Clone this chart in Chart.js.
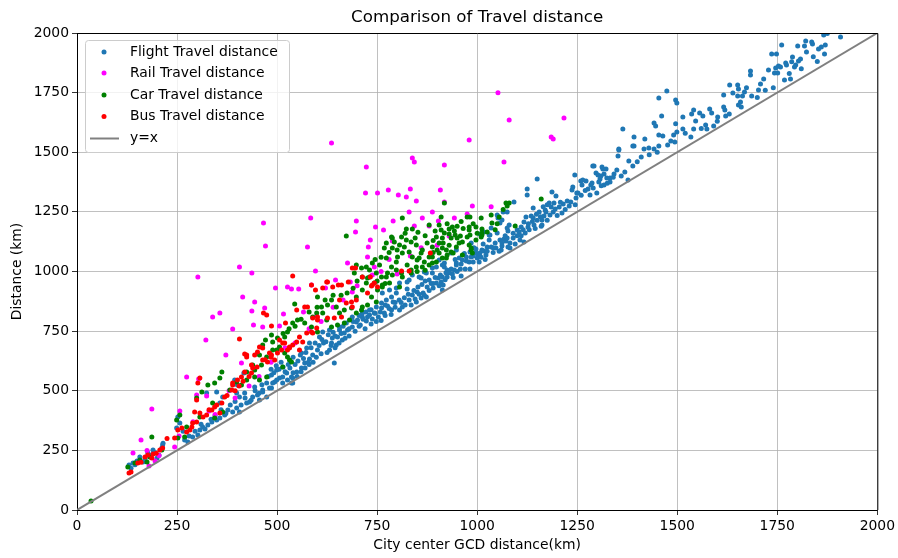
<!DOCTYPE html>
<html lang="en">
<head>
<meta charset="UTF-8">
<title>Comparison of Travel distance</title>
<script src="https://cdn.jsdelivr.net/npm/chart.js@4.4.0/dist/chart.umd.min.js"></script>
<style>
  body { margin: 0; background: #fff; }
  #wrap { position: relative; width: 898px; height: 558px; }
</style>
</head>
<body>
<div id="wrap"><canvas id="myChart"></canvas></div>
<script>
// series labels
const seriesNames = ['Flight Travel distance', 'Rail Travel distance', 'Car Travel distance', 'Bus Travel distance'];
const lineName = 'y=x';
const tickValues = [0, 250, 500, 750, 1000, 1250, 1500, 1750, 2000];

// [city center GCD distance, travel distance] in km
const flightPoints = [
  [1908,1983],[1866,1992],[1875,1998],[1870,1950],[1860,1941],[1853,1933],[1868,1912],[1838,1954],[1836,1962],[1821,1966],
  [1818,1945],[1801,1945],[1823,1920],[1808,1891],[1803,1883],[1796,1866],[1793,1857],[1788,1899],[1771,1874],[1773,1866],
  [1761,1950],[1748,1912],[1736,1912],[1753,1862],[1746,1853],[1751,1832],[1743,1832],[1728,1845],[1768,1803],[1783,1807],
  [1683,1841],[1683,1824],[1716,1807],[1708,1786],[1703,1761],[1686,1736],[1673,1770],[1668,1753],[1663,1736],[1651,1782],
  [1653,1765],[1651,1736],[1658,1711],[1653,1698],[1639,1748],[1631,1782],[1616,1740],[1616,1690],[1619,1677],[1621,1652],
  [1601,1648],[1581,1681],[1586,1665],[1571,1614],[1591,1610],[1574,1597],[1564,1652],[1556,1665],[1541,1677],[1536,1660],
  [1546,1631],[1541,1597],[1534,1564],[1514,1648],[1496,1619],[1514,1597],[1499,1585],[1491,1572],[1484,1547],[1494,1543],
  [1476,1530],[1474,1757],[1454,1727],[1496,1719],[1499,1707],[1461,1652],[1442,1623],[1446,1610],[1454,1572],[1464,1568],
  [1454,1526],[1442,1514],[1429,1518],[1417,1514],[1419,1556],[1392,1564],[1392,1526],[1364,1597],[1354,1514],[1352,1484],
  [1389,1442],[1379,1463],[1369,1417],[1377,1384],[1349,1426],[1342,1409],[1332,1392],[1332,1375],[1322,1430],[1314,1430],
  [1317,1409],[1309,1400],[1307,1388],[1297,1413],[1289,1442],[1304,1375],[1317,1363],[1284,1363],[1272,1379],[1259,1379],
  [1244,1405],[1239,1354],[1237,1342],[1252,1329],[1282,1321],[1299,1329],[1187,1333],[1197,1317],[1758,1857],[1786,1879],
  [1354,1509],[1389,1526],[1292,1442],[1312,1438],[1324,1392],[1302,1405],[1287,1371],[1277,1346],[1264,1384],[1262,1363],
  [1249,1329],[1247,1308],[1234,1291],[1215,1283],[1212,1245],[1225,1296],[1192,1287],[1150,1388],[1125,1346],[1125,1321],
  [1140,1266],[1165,1271],[1170,1258],[1180,1287],[1167,1233],[1182,1237],[1155,1250],[1140,1224],[1162,1216],[1162,1195],
  [1135,1233],[1122,1229],[1117,1208],[1127,1187],[1142,1195],[1110,1187],[1100,1174],[1105,1166],[1120,1161],[1092,1291],
  [1065,1250],[1052,1224],[1057,1203],[1080,1195],[1075,1182],[1077,1170],[1035,1182],[1032,1153],[1050,1161],[1057,1132],
  [1067,1136],[1072,1128],[1082,1120],[1077,1103],[1082,1099],[1107,1132],[1117,1124],[1062,1107],[1017,1166],[1007,1157],
  [1030,1132],[1025,1103],[1015,1115],[1017,1086],[1007,1078],[1002,1069],[997,1094],[982,1082],[1000,1057],[955,1057],
  [973,1044],[980,1040],[960,1031],[982,1010],[958,1010],[948,1027],[943,1006],[928,994],[938,990],[960,981],
  [918,1019],[913,977],[910,956],[915,943],[913,922],[990,1065],[930,998],[925,977],[903,973],[898,952],
  [890,931],[880,964],[875,935],[865,910],[873,893],[860,889],[850,914],[848,872],[838,901],[835,860],
  [825,927],[813,851],[806,839],[798,910],[790,872],[786,839],[776,855],[768,826],[761,847],[753,809],
  [743,826],[738,801],[731,818],[723,792],[713,809],[708,776],[698,788],[688,767],[676,755],[668,742],
  [656,755],[651,725],[638,721],[636,700],[648,692],[663,713],[830,964],[855,977],[873,994],[888,994],
  [898,1019],[918,1036],[973,1061],[643,616],[631,671],[616,700],[606,725],[601,671],[589,650],[581,633],
  [569,616],[561,595],[549,579],[536,558],[526,545],[539,532],[514,532],[506,553],[494,537],[486,512],
  [474,532],[464,503],[451,482],[444,516],[419,491],[406,474],[561,658],[574,679],[581,700],[614,746],
  [631,755],[656,767],[673,784],[688,809],[701,797],[713,826],[726,809],[731,839],[748,851],[761,868],
  [773,881],[786,893],[763,910],[781,922],[798,931],[806,952],[825,956],[838,985],[860,973],[868,998],
  [888,1015],[913,1027],[925,1006],[948,1036],[963,1048],[985,1061],[997,1078],[1012,1090],[1022,1069],[1035,1103],
  [1047,1099],[1062,1120],[1075,1140],[1050,1237],[1062,1216],[1075,1250],[1030,1153],[985,1120],[948,1090],[935,1078],
  [905,1048],[130,189],[140,197],[165,201],[157,222],[177,239],[190,252],[212,260],[214,273],[200,218],
  [269,294],[277,285],[289,306],[302,314],[307,335],[314,348],[327,356],[337,369],[349,377],[357,386],
  [369,398],[377,419],[389,411],[399,428],[406,411],[424,449],[431,453],[439,474],[456,461],[474,474],
  [464,495],[481,512],[489,532],[499,545],[514,558],[524,574],[536,532],[539,553],[499,587],[486,566],
  [417,574],[401,524],[399,491],[364,474],[357,449],[394,545],[257,365],[249,344],[252,390],[324,491],
  [349,495],[478,560],[485,590],[492,575],[498,605],[505,590],[510,620],[515,600],[520,580],[528,610],
  [532,595],[540,640],[545,610],[552,625],[558,650],[566,635],[572,660],[578,620],[585,680],[595,700],
  [605,690],[612,715],[622,705],[628,735],[640,745],[645,730],[660,740],[665,770],[680,760],[690,790],
  [705,815],[715,800],[722,830],[735,840],[745,825],[758,830],[770,860],[780,845],[795,870],[805,880],
  [818,890],[828,905],[842,920],[852,935],[862,945],[870,960],[885,950],[895,975],[908,985],[922,995],
  [935,1010],[945,1050],[968,1075],[992,1100],[1005,1040],[1020,1050],[1040,1080],[1055,1085],[1090,1140],[1095,1115],
  [1110,1150],[1130,1175],[1145,1180],[1160,1190],[1175,1215],[1190,1250],[1200,1235],[1205,1270],[1220,1260],[1230,1275],
  [1245,1280],[265,330],[280,310],[295,330],[310,360],[320,340],[335,380],[345,395],[360,420],[372,405],
  [383,440],[395,455],[410,440],[420,470],[435,460],[445,500],[455,490],[462,525],[135,175],[145,190],
  [150,205],[170,215],[185,230],[195,240],[205,230],[215,280],
  [1100,1150],[1115,1175],[1128,1200],[1138,1210],[1148,1240],[1158,1230],[1172,1250],[1185,1270],[1195,1262],[1208,1290],
  [1175,1280],[1150,1215],[1090,1160],[1070,1150],[1045,1120],[1040,1100],[1060,1090],[1025,1085],[1010,1060],[990,1040],
  [970,1010],[950,1000],[940,975],[920,965],[905,940],[890,950],[880,920],[868,900],[855,905],[845,885],
  [830,880],[820,860],[810,870],[795,850],[785,820],[770,815],[760,795],[748,790],[735,780],[720,760],
  [705,770],[695,750],[680,730],[670,720],[655,700],[645,680],[635,690],[625,660],[610,655],[598,640],
  [590,620],[580,610],[570,595],[560,580],[550,560],[540,575],[1260,1320],[1270,1340],[1290,1350],[1310,1360],
  [1325,1370],[1340,1395],[1360,1400],[1400,1460],[1410,1480],[1430,1490],[1450,1500],[1520,1580],[1560,1600],[1600,1630],
  [1630,1660],[1660,1690],[1700,1730],[1720,1760],[1740,1770],[1780,1830],[1810,1850],[1840,1900],[1850,1880]
];

const railPoints = [
  [636,1539],[1052,1749],[1080,1635],[1217,1644],[1185,1564],[1190,1556],[980,1551],[1067,1459],[838,1476],[843,1459],
  [723,1438],[721,1329],[751,1329],[778,1342],[803,1321],[823,1312],[833,1346],[848,1296],[918,1447],[908,1342],
  [918,1291],[988,1275],[1035,1271],[943,1224],[975,1241],[830,1250],[888,1250],[466,1203],[471,1107],[584,1224],
  [576,1103],[406,1019],[437,994],[596,1002],[302,977],[698,1212],[696,1166],[733,1132],[728,1103],[726,1061],
  [676,1036],[746,1187],[766,1174],[790,1212],[863,1224],[903,1212],[843,1191],[880,1191],[788,1128],[833,1065],
  [930,1149],[743,1019],[683,956],[738,985],[496,931],[526,935],[536,927],[554,927],[586,943],[621,931],
  [646,964],[688,914],[414,893],[444,872],[339,809],[357,826],[437,834],[469,847],[516,822],[566,830],
  [599,813],[389,759],[441,776],[464,767],[506,772],[322,713],[372,650],[411,616],[274,558],[304,549],
  [299,482],[324,478],[187,423],[257,415],[244,264],[160,294],[140,239],[175,250],[195,205],[180,185],
  [205,228],[255,310],[290,370],[330,415],[345,400],[380,500],[395,470],[430,520],[455,560],[485,620],
  [520,680],[545,700],[580,760],[610,790],[640,850],[665,880],[700,940],[760,1000],[800,990],[860,1100],
  [900,1110],[780,1050]
];

const carPoints = [
  [918,1287],[975,1229],[1010,1224],[1035,1237],[910,1229],[813,1224],[838,1178],[823,1178],[880,1195],[910,1174],
  [918,1161],[930,1178],[938,1187],[935,1140],[913,1140],[898,1145],[905,1120],[888,1103],[863,1090],[860,1078],
  [848,1111],[835,1124],[823,1132],[811,1145],[806,1111],[793,1124],[786,1145],[773,1120],[768,1099],[788,1099],
  [818,1103],[830,1082],[813,1078],[801,1061],[838,1061],[855,1057],[868,1040],[888,1061],[898,1040],[913,1057],
  [925,1069],[880,1027],[863,1019],[848,1019],[825,1027],[835,1006],[798,1040],[786,1019],[773,1057],[756,1027],
  [738,1036],[731,1006],[723,1019],[711,1015],[698,1027],[693,994],[713,977],[726,973],[748,994],[761,977],
  [776,994],[798,1006],[811,994],[781,952],[763,943],[673,1149],[985,1099],[997,1132],[1010,1145],[963,1069],
  [955,1120],[948,1103],[988,1078],[1160,1304],[1080,1287],[1075,1275],[982,1229],[980,1187],[1012,1178],[1012,1153],
  [982,1153],[943,1170],[945,1153],[958,1149],[930,1157],[915,1120],[913,1099],[935,1082],[940,1078],[923,1057],
  [980,1111],[985,1090],[1095,1191],[788,1140],[544,864],[589,809],[601,893],[586,767],[601,746],[569,784],
  [551,797],[539,784],[526,746],[519,725],[506,683],[489,671],[474,642],[461,608],[444,587],[424,545],
  [456,545],[486,734],[489,704],[526,642],[536,621],[514,600],[636,881],[648,851],[656,826],[668,839],
  [686,847],[698,826],[681,797],[668,784],[651,776],[636,767],[624,797],[614,826],[626,860],[611,851],
  [599,826],[698,893],[713,922],[723,952],[731,977],[743,952],[751,922],[736,893],[748,872],[726,860],
  [713,851],[711,839],[773,977],[763,935],[788,985],[813,977],[806,935],[835,994],[850,1048],[880,1061],
  [888,1036],[905,1078],[923,1090],[963,1124],[975,1145],[980,1174],[997,1187],[1012,1161],[1025,1166],[1037,1203],
  [1055,1229],[1072,1287],[471,713],[464,692],[501,721],[456,650],[499,671],[519,658],[531,629],[439,608],
  [424,579],[444,558],[474,558],[399,537],[411,524],[382,503],[362,579],[357,553],[344,532],[327,524],
  [312,495],[299,470],[339,449],[364,411],[344,386],[307,390],[274,348],[257,398],[249,377],[269,306],
  [252,302],[187,306],[212,252],[175,201],[157,210],[145,197],[127,180],[182,222],[35,38],
  [845,1140],[852,1165],[870,1150],[875,1120],[890,1130],[895,1170],[905,1195],[925,1200],[950,1190],[960,1210],
  [965,1180],[990,1200],[1000,1160],[820,1160],[800,1090],[780,1080],[760,1060],[745,1050],[850,1000],[870,1005],
  [890,1080],[900,1090],[930,1110],[950,1140],[1050,1200],[1045,1175],[1065,1260],[770,950],[750,960],[700,960],
  [690,930],[675,910],[660,900],[640,900],[620,880],[600,850],[580,830],[560,800],[545,770],[530,760],[515,740]
];

const busPoints = [
  [130,155],[135,159],[152,197],[170,222],[177,231],[187,218],[190,235],[207,252],[214,260],[244,302],
  [252,335],[262,344],[274,327],[282,335],[287,348],[289,365],[299,369],[307,407],[294,411],[299,461],
  [302,532],[307,553],[324,398],[337,419],[344,432],[349,440],[362,449],[357,407],[369,474],[389,524],
  [401,545],[411,558],[424,642],[436,574],[439,595],[419,579],[464,679],[494,629],[476,621],[514,700],
  [526,671],[539,692],[539,981],[466,826],[474,818],[486,772],[424,650],[406,717],[521,784],[596,922],
  [624,956],[639,935],[653,943],[678,956],[688,1015],[713,977],[733,977],[738,943],[726,910],[698,881],
  [686,872],[688,851],[661,809],[643,805],[626,805],[601,797],[599,763],[576,851],[549,839],[506,713],
  [519,700],[531,679],[556,725],[564,704],[574,742],[589,742],[501,658],[486,650],[456,683],[451,662],
  [883,1078],[696,1015],[811,1002],[830,1002],[743,952],[736,939],[751,935],[661,943],[626,956],[614,931],
  [586,943],[673,868],[656,881],[601,809],[589,805],[569,851],[511,671],[531,683],[549,704],[556,671],
  [586,746],[444,650],[481,658],[464,629],[436,608],[419,654],[389,532],[387,503],[160,200],[198,238],
  [225,300],[315,390],[330,420],[375,480],[395,500],[405,520],[415,540],[430,560],[450,600],[470,630],
  [485,640]
];

const diagonal = [[0, 0], [2000, 2000]];

const colors = ['#1f77b4', '#ff00ff', '#008000', '#ff0000'];
const FONT = '"DejaVu Sans", sans-serif';

function toXY(list) {
  return list.map(function(p) { return { x: p[0], y: p[1] }; });
}

function scatterSet(i, list) {
  return {
    type: 'scatter',
    label: seriesNames[i],
    data: toXY(list),
    backgroundColor: colors[i],
    borderWidth: 0,
    pointRadius: 2.5,
    pointHoverRadius: 2.5,
    order: 5 - i
  };
}

// title, top/right spines and the legend box in the upper left corner
const framePlugin = {
  id: 'frame',
  afterDatasetsDraw: function(chart) {
    const ctx = chart.ctx;
    const a = chart.chartArea;
    ctx.save();
    ctx.strokeStyle = '#000';
    ctx.lineWidth = 1;
    ctx.beginPath();
    ctx.moveTo(a.left, a.top + 0.5);
    ctx.lineTo(a.right + 0.5, a.top + 0.5);
    ctx.lineTo(a.right + 0.5, a.bottom);
    ctx.stroke();

    ctx.fillStyle = '#000';
    ctx.font = '16.7px ' + FONT;
    ctx.textAlign = 'center';
    ctx.textBaseline = 'middle';
    ctx.fillText('Comparison of Travel distance', (a.left + a.right) / 2, 18);

    // legend
    const lx = a.left + 8.5, ly = a.top + 7.5, lw = 204, lh = 112;
    ctx.beginPath();
    ctx.roundRect(lx, ly, lw, lh, 3);
    ctx.fillStyle = 'rgba(255,255,255,0.8)';
    ctx.fill();
    ctx.strokeStyle = '#cccccc';
    ctx.stroke();

    const rows = [52, 73, 95, 116.5, 138.5];
    ctx.font = '13.9px ' + FONT;
    ctx.textAlign = 'left';
    for (let i = 0; i < 4; i++) {
      ctx.beginPath();
      ctx.arc(a.left + 27, rows[i], 2.5, 0, Math.PI * 2);
      ctx.fillStyle = colors[i];
      ctx.fill();
      ctx.fillStyle = '#000';
      ctx.fillText(seriesNames[i], a.left + 53, rows[i]);
    }
    ctx.beginPath();
    ctx.moveTo(a.left + 13, rows[4]);
    ctx.lineTo(a.left + 42, rows[4]);
    ctx.strokeStyle = 'gray';
    ctx.lineWidth = 2;
    ctx.stroke();
    ctx.fillStyle = '#000';
    ctx.fillText(lineName, a.left + 53, rows[4]);
    ctx.restore();
  }
};

const axisCommon = {
  type: 'linear',
  min: 0,
  max: 2000,
  afterBuildTicks: function(scale) {
    scale.ticks = tickValues.map(function(v) { return { value: v }; });
  },
  grid: { color: '#b0b0b0', lineWidth: 0.8, tickColor: '#000', tickLength: 5 },
  border: { color: '#000', width: 1 },
  ticks: {
    color: '#000',
    font: { family: FONT, size: 13.9 },
    padding: 3,
    maxRotation: 0,
    callback: function(v) { return String(v); }
  }
};

const ctx = document.getElementById('myChart');
const myChart = new Chart(ctx, {
  data: {
    datasets: [
      scatterSet(0, flightPoints),
      scatterSet(1, railPoints),
      scatterSet(2, carPoints),
      scatterSet(3, busPoints),
      {
        type: 'line',
        label: lineName,
        data: toXY(diagonal),
        borderColor: 'gray',
        borderWidth: 2,
        pointRadius: 0,
        order: 0
      }
    ]
  },
  options: {
    responsive: true,
    maintainAspectRatio: false,
    animation: false,
    layout: { padding: { top: 33, right: 19, left: 0, bottom: 0 } },
    plugins: {
      legend: { display: false },
      tooltip: { enabled: false },
      title: { display: false }
    },
    scales: {
      x: Object.assign({}, axisCommon, {
        position: 'bottom',
        title: { display: true, text: 'City center GCD distance(km)', color: '#000',
                 font: { family: FONT, size: 13.9 }, padding: { top: 0, bottom: 4 } },
        afterFit: function(scale) { scale.height = 48; }
      }),
      y: Object.assign({}, axisCommon, {
        position: 'left',
        title: { display: true, text: 'Distance (km)', color: '#000',
                 font: { family: FONT, size: 13.9 }, padding: { top: 9, bottom: 0 } },
        afterFit: function(scale) { scale.width = 77; }
      })
    }
  },
  plugins: [framePlugin]
});
</script>
</body>
</html>
